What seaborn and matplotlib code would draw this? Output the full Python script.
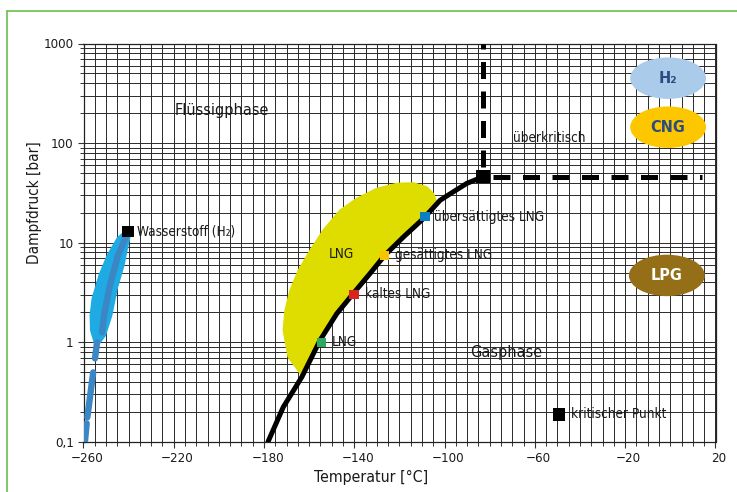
import numpy as np
import pandas as pd
import matplotlib
matplotlib.use("Agg")
import matplotlib.pyplot as plt
import matplotlib.ticker as mticker
from matplotlib import font_manager
from matplotlib.patches import Ellipse, Polygon
from matplotlib.lines import Line2D
from matplotlib.transforms import ScaledTranslation
import seaborn as sns

# ---------------- data ----------------
curve_T = [-178.3, -171.5, -163.3, -155.2, -147.8, -140.5, -133.1, -126.5,
           -118.3, -109.4, -102.0, -96.2, -90.2, -83.0]
curve_p = [0.10, 0.224, 0.448, 1.05, 1.94, 3.09, 4.90, 7.49,
           11.4, 17.5, 26.7, 32.4, 39.4, 46.0]
crit_T, crit_p = -83.0, 46.0
dash_end_T = 14.0

lng_T = [-163.5, -169.3, -171.5, -170.7, -168.5, -164.8, -159.6, -153.8,
         -146.4, -139.0, -130.1, -121.2, -113.9, -107.9, -105.0, -103.5]
lng_p = [0.47, 0.71, 1.32, 2.10, 3.33, 5.29, 8.41, 13.4,
         21.2, 27.8, 35.1, 39.4, 39.9, 36.4, 31.2, 25.7]

state_T = [-154.6, -140.2, -126.5, -108.7]
state_p = [1.0, 3.04, 7.49, 18.2]
state_labels = ["LNG", "kaltes LNG", "gesättigtes LNG", "übersättigtes LNG"]
state_colors = ["#2ea85f", "#d8251d", "#f8c400", "#0b7fc3"]

h2_blob_T = [-254.9, -256.5, -256.7, -255.8, -252.7, -249.1, -244.7, -241.6,
             -239.6, -240.9, -242.4, -245.4, -247.8, -250.6, -253.0]
h2_blob_p = [1.0, 1.32, 1.87, 2.77, 4.76, 7.49, 11.1, 12.8,
             11.9, 8.81, 5.95, 3.49, 1.87, 1.18, 1.0]
h2_line_T = [-240.3, -244.7, -248.3, -250.9, -251.8]
h2_line_p = [12.8, 7.49, 3.74, 1.87, 1.26]
h2_dash_T = [[-254.0, -254.9], [-255.7, -258.3], [-258.6, -259.3]]
h2_dash_p = [[1.0, 0.69], [0.50, 0.177], [0.154, 0.104]]
h2_crit_T, h2_crit_p = -240.3, 13.0
kp_T, kp_p = -49.3, 0.189

x_ticks = [-260, -220, -180, -140, -100, -60, -20, 20]
y_ticks = [0.1, 1, 10, 100, 1000]
y_tick_labels = ["0,1", "1", "10", "100", "1000"]

# ---------------- style ----------------
sns.set_theme(style="ticks")

fams = {(f.name, f.stretch) for f in font_manager.fontManager.ttflist}
names = {f.name for f in font_manager.fontManager.ttflist}
stretch = "normal"
if "Liberation Sans Narrow" in names:
    main = "Liberation Sans Narrow"
elif any(n == "DejaVu Sans" and s in ("condensed", "semi-condensed") for n, s in fams):
    main = "DejaVu Sans"
    stretch = "condensed"
elif "Roboto Condensed" in names:
    main = "Roboto Condensed"
else:
    main = "Liberation Sans"
plt.rcParams["font.family"] = [main, "DejaVu Sans"]
plt.rcParams["font.stretch"] = stretch
plt.rcParams["text.color"] = "#1a1a1a"
scale = 0.93 if (main == "Liberation Sans Narrow" or stretch == "condensed" or main == "Roboto Condensed") else 0.82

fig = plt.figure(figsize=(7.37, 4.92), dpi=100)
ax = fig.add_axes([83.5 / 737, 1 - 442 / 492, 632 / 737, 398.5 / 492])

ax.set_yscale("log")
ax.set_xlim(-260, 20)
ax.set_ylim(0.1, 1000)

ax.xaxis.set_major_locator(mticker.FixedLocator(x_ticks))
ax.xaxis.set_minor_locator(mticker.MultipleLocator(5))
ax.yaxis.set_major_locator(mticker.FixedLocator(y_ticks))
ax.yaxis.set_major_formatter(mticker.FixedFormatter(y_tick_labels))
ax.yaxis.set_minor_locator(mticker.LogLocator(base=10, subs=np.arange(2, 10)))
ax.yaxis.set_minor_formatter(mticker.NullFormatter())

ax.grid(True, which="both", color="#2a2a2a", lw=0.7)
ax.set_axisbelow(True)
for s in ax.spines.values():
    s.set_visible(True)
    s.set_color("#222222")
    s.set_linewidth(0.9)
ax.tick_params(axis="both", which="both", direction="out", color="#333333",
               labelsize=10.3 * scale, labelcolor="#1a1a1a")
ax.tick_params(axis="both", which="major", length=4, width=0.8, pad=3)
ax.tick_params(axis="both", which="minor", length=3, width=0.7)
for lab in ax.get_xticklabels():
    lab.set_transform(lab.get_transform() + ScaledTranslation(3.5 / 100, 0, fig.dpi_scale_trans))

# ---------------- LNG region ----------------
poly_T = list(lng_T) + [t for t in reversed(curve_T) if -163.4 <= t <= -104]
poly_p = list(lng_p) + [p for t, p in zip(reversed(curve_T), reversed(curve_p)) if -163.4 <= t <= -104]
ax.add_patch(Polygon(np.column_stack([poly_T, poly_p]), closed=True,
                     facecolor="#dfdc00", edgecolor="#dfdc00", lw=1.0,
                     joinstyle="round", zorder=2))

# ---------------- hydrogen ----------------
ax.add_patch(Polygon(np.column_stack([h2_blob_T, h2_blob_p]), closed=True,
                     facecolor="#1eaae2", edgecolor="#1eaae2", lw=2.0,
                     joinstyle="round", zorder=2))
sns.lineplot(x=h2_line_T, y=h2_line_p, sort=False, ax=ax, color="#3b86c4",
             lw=4.6, solid_capstyle="round", solid_joinstyle="round", zorder=3)
for tt, pp in zip(h2_dash_T, h2_dash_p):
    sns.lineplot(x=tt, y=pp, sort=False, ax=ax, color="#3b86c4", lw=4.6,
                 solid_capstyle="round", zorder=3)

# ---------------- vapour pressure curve ----------------
sns.lineplot(x=curve_T, y=curve_p, sort=False, ax=ax, color="black", lw=3.6,
             solid_joinstyle="round", zorder=4)

ax.plot([crit_T, crit_T], [crit_p, 1000], color="black", lw=3.6,
        linestyle=(3.9, (3.4, 2.5)), dash_capstyle="butt", zorder=4, clip_on=False)
ax.plot([crit_T, dash_end_T], [crit_p, crit_p], color="black", lw=3.6,
        linestyle=(3.9, (3.4, 2.5)), dash_capstyle="butt", zorder=4)

pts = pd.DataFrame({"T": state_T, "p": state_p, "label": state_labels})
sns.scatterplot(data=pts, x="T", y="p", hue="label", palette=state_colors,
                marker="s", s=45, edgecolor="none", ax=ax, legend=False, zorder=5)
sns.scatterplot(x=[crit_T], y=[crit_p], marker="s", s=95, color="black",
                edgecolor="none", ax=ax, legend=False, zorder=6)
sns.scatterplot(x=[h2_crit_T], y=[h2_crit_p], marker="s", s=65, color="black",
                edgecolor="none", ax=ax, legend=False, zorder=6)
sns.scatterplot(x=[kp_T], y=[kp_p], marker="s", s=80, color="black",
                edgecolor="none", ax=ax, legend=False, zorder=6)

# ---------------- text ----------------
fs = 10.5 * scale
big = 12.5 * scale
txt = dict(fontsize=fs, va="center", ha="left", zorder=7)
ax.text(-236.3, 13.0, "Wasserstoff (H\u2082)", **txt)
ax.text(-149.8, 1.02, "LNG", **txt)
ax.text(-135.5, 3.03, "kaltes LNG", **txt)
ax.text(-122.2, 7.5, "gesättigtes LNG", **txt)
ax.text(-104.5, 18.0, "übersättigtes LNG", **txt)
ax.text(-43.8, 0.189, "kritischer Punkt", **txt)
ax.text(-145.6, 7.8, "LNG", fontsize=fs, ha="center", va="center", zorder=7)
ax.text(-69.5, 112, "überkritisch", **txt)
ax.text(-198.6, 215, "Flüssigphase", fontsize=big, ha="center", va="center", zorder=7)
ax.text(-72.8, 0.79, "Gasphase", fontsize=big, ha="center", va="center", zorder=7)

ells = [
    (0.925, 0.913, "#aacbea", "H\u2082", "#2b4c7e"),
    (0.925, 0.790, "#fdc700", "CNG", "#2b4c7e"),
    (0.923, 0.418, "#956f17", "LPG", "white"),
]
for cx, cy, fc, lab, tc in ells:
    ax.add_patch(Ellipse((cx, cy), 0.120, 0.104, transform=ax.transAxes,
                         facecolor=fc, edgecolor="none", zorder=6))
    ax.text(cx, cy, lab, transform=ax.transAxes, ha="center", va="center",
            fontsize=12.5 * scale, fontweight="bold", color=tc, zorder=7)

fig.text(35 / 737, 1 - 203 / 492, "Dampfdruck [bar]", rotation=90,
         ha="center", va="center", fontsize=11.8 * scale)
fig.text(371 / 737, 1 - 477 / 492, "Temperatur [°C]", ha="center", va="center",
         fontsize=12.2 * scale)
ax.set_xlabel("")
ax.set_ylabel("")

fig.add_artist(Line2D([7 / 737, 1], [1 - 11 / 492, 1 - 11 / 492],
                      transform=fig.transFigure, color="#6abf4b", lw=1.2))
fig.add_artist(Line2D([7 / 737, 7 / 737], [0, 1 - 11 / 492],
                      transform=fig.transFigure, color="#6abf4b", lw=1.2))

fig.savefig("out.png", dpi=100)
